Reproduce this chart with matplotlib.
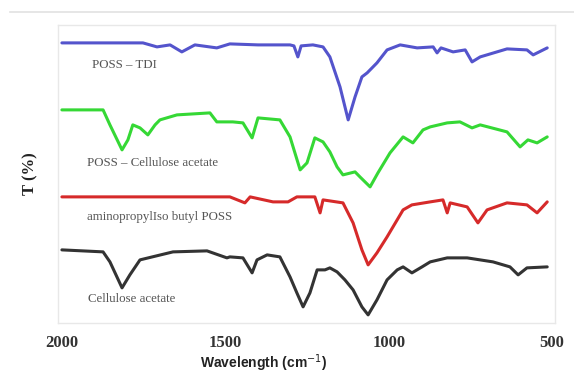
import matplotlib
matplotlib.use("Agg")
import matplotlib.pyplot as plt
from matplotlib.lines import Line2D

# FTIR spectra, transmittance in arbitrary (offset) units
tdi_wn = [2000, 1752, 1709, 1669, 1633, 1593, 1526, 1486, 1400, 1302, 1290, 1278, 1268,
          1232, 1201, 1180, 1149, 1124, 1103, 1082, 1066, 1036, 1005, 965, 913, 864, 852,
          840, 803, 766, 745, 720, 638, 577, 558, 515]
tdi_t = [280, 280, 276, 278, 271, 278, 275, 279, 278, 278, 277, 266, 277,
         278, 276, 266, 236, 203, 226, 246, 250, 260, 273, 278, 275, 276, 270,
         275, 271, 273, 261, 266, 274, 273, 268, 275]

pca_wn = [2000, 1874, 1853, 1816, 1798, 1783, 1761, 1737, 1715, 1700, 1648, 1547, 1526,
          1477, 1446, 1418, 1400, 1333, 1302, 1271, 1250, 1226, 1201, 1180, 1158, 1140,
          1103, 1088, 1057, 1033, 996, 956, 926, 895, 873, 821, 782, 745, 720, 638, 598,
          574, 546, 515]
pca_t = [213, 213, 198, 173, 183, 198, 195, 188, 198, 203, 208, 210, 201,
         201, 200, 185, 205, 203, 186, 153, 160, 185, 181, 171, 156, 148,
         151, 146, 136, 150, 170, 186, 180, 193, 196, 200, 201, 195, 198, 191, 176,
         183, 180, 186]

amp_wn = [2000, 1486, 1440, 1424, 1354, 1308, 1281, 1226, 1210, 1201, 1140, 1109, 1082,
          1063, 1036, 1005, 956, 929, 873, 834, 821, 812, 760, 727, 699, 638, 577, 546, 515]
amp_t = [126, 126, 120, 126, 121, 121, 126, 126, 110, 123, 120, 100, 73,
         58, 70, 86, 113, 118, 121, 123, 110, 120, 116, 100, 113, 120, 118, 110, 121]

ca_wn = [2000, 1874, 1853, 1816, 1792, 1761, 1660, 1556, 1495, 1486, 1446, 1418, 1403,
         1372, 1333, 1302, 1281, 1262, 1241, 1219, 1195, 1180, 1158, 1134, 1109, 1082,
         1063, 1036, 1005, 974, 956, 929, 898, 873, 821, 760, 681, 629, 604, 577, 515]
ca_t = [73, 71, 61, 35, 48, 63, 71, 72, 65, 66, 65, 50, 63,
        68, 66, 46, 30, 16, 30, 53, 53, 55, 51, 43, 33, 16,
        8, 23, 43, 53, 56, 50, 56, 61, 65, 65, 61, 56, 48, 55, 56]

names = ["POSS \u2013 TDI", "POSS \u2013 Cellulose acetate",
         "aminopropylIso butyl POSS", "Cellulose acetate"]
label_pos = [(1908, 258), (1923, 160), (1923, 106), (1920, 24)]
colors = ["#5454cc", "#35d835", "#d62a2a", "#333333"]
x_ticks = [2000, 1500, 1000, 500]

fig = plt.figure(figsize=(5.74, 3.83), dpi=100)
ax = fig.add_axes([0.101, 0.157, 0.866, 0.778])

series = [(tdi_wn, tdi_t), (pca_wn, pca_t), (amp_wn, amp_t), (ca_wn, ca_t)]
for (wn, t), c in zip(series, colors):
    ax.plot(wn, t, color=c, lw=2.2, solid_joinstyle="round", solid_capstyle="round")

for name, (lx, ly) in zip(names, label_pos):
    ax.text(lx, ly, name, fontsize=9.3, color="#555555", family="Liberation Serif",
            va="center", ha="left")

ax.set_xlim(2012, 491)
ax.set_ylim(0, 298)
ax.set_yticks([])
ax.set_xticks(x_ticks)
ax.set_xticklabels([str(v) for v in x_ticks], fontsize=12, fontweight="bold",
                   family="Liberation Serif", color="#333333")
ax.tick_params(axis="x", length=0, pad=9)
for sp in ax.spines.values():
    sp.set_color("#e8e8e8")
    sp.set_linewidth(1.0)

ax.set_xlabel("Wavelength (cm$^{-1}$)", fontsize=10, fontweight="bold",
              family="Liberation Sans", color="#222222")
ax.xaxis.set_label_coords(0.414, -0.134)
ax.xaxis.label.set_va("center")
ax.set_ylabel("T (%)", fontsize=12, fontweight="bold", family="Liberation Serif",
              color="#222222", labelpad=14)

# faint rule across the top of the picture
fig.add_artist(Line2D([0.017, 1.0], [1 - 12 / 383] * 2, color="#e2e2e2", lw=1.2))

fig.savefig("out.png", dpi=100, facecolor="white")
